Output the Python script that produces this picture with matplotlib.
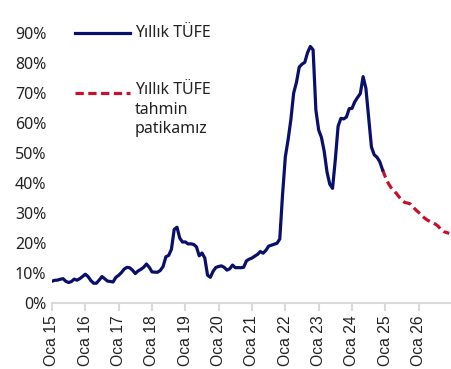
import numpy as np
import matplotlib
matplotlib.use("Agg")
import matplotlib.pyplot as plt
from matplotlib.lines import Line2D

# Monthly annual CPI (%), Jan 2015 - Dec 2024
cpi = [
    7.24, 7.55, 7.61, 7.91, 8.09, 7.20, 6.81, 7.14, 7.95, 7.58, 8.10, 8.81,          # 2015
    9.58, 8.78, 7.46, 6.57, 6.58, 7.64, 8.79, 8.05, 7.28, 7.16, 7.00, 8.53,          # 2016
    9.22, 10.13, 11.29, 11.87, 11.72, 10.90, 9.79, 10.68, 11.20, 11.90, 12.98, 11.92,  # 2017
    10.35, 10.26, 10.23, 10.85, 12.15, 15.39, 15.85, 17.90, 24.52, 25.24, 21.62, 20.30,  # 2018
    20.35, 19.67, 19.71, 19.50, 18.71, 15.72, 16.65, 15.01, 9.26, 8.55, 10.56, 11.84,  # 2019
    12.15, 12.37, 11.86, 10.94, 11.39, 12.62, 11.76, 11.77, 11.75, 11.89, 14.03, 14.60,  # 2020
    14.97, 15.61, 16.19, 17.14, 16.59, 17.53, 18.95, 19.25, 19.58, 19.89, 21.31, 36.08,  # 2021
    48.69, 54.44, 61.14, 69.97, 73.50, 78.62, 79.60, 80.21, 83.45, 85.51, 84.39, 64.27,  # 2022
    57.68, 55.18, 50.51, 43.68, 39.59, 38.21, 47.83, 58.94, 61.53, 61.36, 61.98, 64.77,  # 2023
    64.86, 67.07, 68.50, 69.80, 75.45, 71.60, 61.78, 51.97, 49.38, 48.58, 47.09, 44.38,  # 2024
]

# Forecast path, Dec 2024 - Dec 2026
forecast = [
    44.4, 42.0, 40.0, 38.5, 37.5, 36.5, 35.3, 34.2, 33.5, 33.3, 33.0, 32.0, 31.0,
    30.2, 29.2, 28.4, 27.7, 27.2, 26.7, 26.3, 25.6, 24.5, 23.8, 23.5, 23.2,
]

tick_labels = ["Oca 15", "Oca 16", "Oca 17", "Oca 18", "Oca 19", "Oca 20",
               "Oca 21", "Oca 22", "Oca 23", "Oca 24", "Oca 25", "Oca 26"]
yticks = [0, 10, 20, 30, 40, 50, 60, 70, 80, 90]

blue = "#0A0F6B"
red = "#C8102E"

fig = plt.figure(figsize=(4.52, 3.69), dpi=100)
ax = fig.add_axes([0.115, 0.179, 0.885, 0.7316])

x_cpi = np.arange(len(cpi))
x_fc = np.arange(len(cpi) - 1, len(cpi) - 1 + len(forecast))

ax.plot(x_cpi, cpi, color=blue, lw=2.3, solid_joinstyle="round", zorder=3)
ax.plot(x_fc, forecast, color=red, lw=2.3, dashes=(2.6, 1.4), zorder=2)

ax.set_xlim(0, 144)
ax.set_ylim(0, 90)

ax.set_xticks(np.arange(0, 144, 12))
ax.set_xticklabels(tick_labels, rotation=90, fontsize=11.3, family="Liberation Sans",
                   color="#222222")
ax.set_yticks(yticks)
ax.set_yticklabels([f"{v}%" for v in yticks], fontsize=11.5, family="Noto Sans",
                   color="#222222")

for s in ["top", "right", "left"]:
    ax.spines[s].set_visible(False)
ax.spines["bottom"].set_color("#D9D9D9")
ax.spines["bottom"].set_linewidth(1.5)
ax.tick_params(axis="x", direction="out", length=6, width=1.5, color="#D9D9D9", pad=3)
ax.tick_params(axis="y", length=0, pad=4)

# Legend drawn by hand (second label is multi-line, handle sits on its first line)
fig.add_artist(Line2D([75 / 452, 130 / 452], [1 - 33 / 369, 1 - 33 / 369],
                      color=blue, lw=2.3, transform=fig.transFigure))
fig.add_artist(Line2D([75 / 452, 130 / 452], [1 - 93 / 369, 1 - 93 / 369],
                      color=red, lw=2.3, dashes=(2.6, 1.4), transform=fig.transFigure))
fig.text(135 / 452, 1 - 33 / 369, "Yıllık TÜFE", fontsize=11.5, family="Noto Sans",
         color="#222222", va="center", ha="left")
fig.text(135 / 452, 1 - 82 / 369, "Yıllık TÜFE\ntahmin\npatikamız", fontsize=11.5,
         family="Noto Sans", color="#222222", va="top", ha="left",
         linespacing=1.3, transform=fig.transFigure)

fig.savefig("out.png", dpi=100)
